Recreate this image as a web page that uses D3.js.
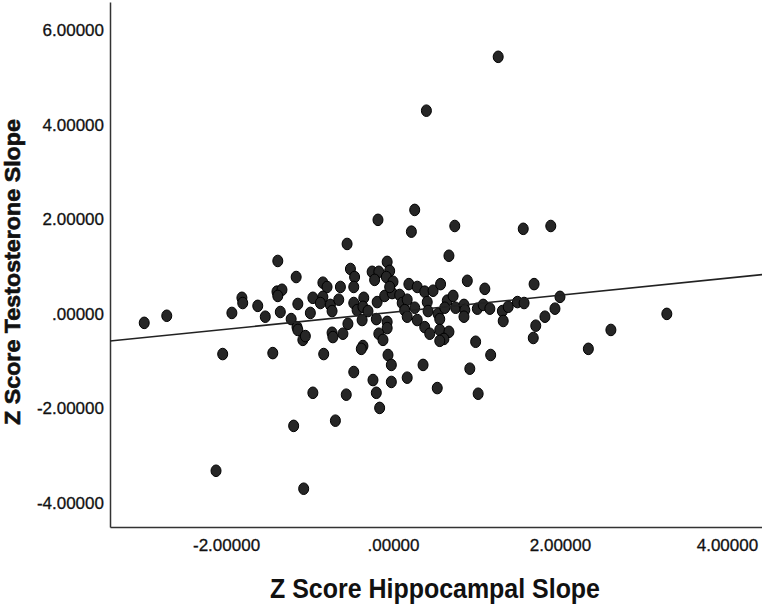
<!DOCTYPE html>
<html>
<head>
<meta charset="utf-8">
<script src="https://cdn.jsdelivr.net/npm/d3@7"></script>
<style>
  html, body { margin: 0; padding: 0; background: #fff; }
  svg { display: block; }
</style>
</head>
<body>
<div id="chart"></div>
<script>
'use strict';

// z score pairs
const hippoZ = [
  -2.98, -2.71, -2.12, -2.04, -1.93, -1.81, -1.80, -1.62, -1.53, -1.44,
  -1.38, -1.39, -1.33, -1.38, -1.35, -1.22, -1.16, -1.14, -1.15, -1.14,
  -1.08, -1.05, -1.19, -1.07, -0.99, -0.96, -0.96, -0.84, -0.79, -0.84,
  -0.87, -0.75, -0.73, -0.83, -0.63, -0.65, -0.73, -0.72, -0.60, -0.69,
  -0.55, -0.51, -0.46, -0.47, -0.47, -0.43, -0.54, -0.56, -0.47, -0.35,
  -0.36, -0.30, -0.37, -0.36, -0.38, -0.25, -0.17, -0.22, -0.19, -0.20,
  -0.24, -0.20, -0.16, -0.18, -0.07, -0.04, -0.08, 0.00, -0.10, -0.01,
  -0.07, -0.07, -0.17, -0.12, -0.06, -0.02, -0.02, -0.04, 0.08, 0.11,
  0.17, 0.14, 0.19, 0.26, 0.22, 0.29, 0.26, 0.17, 0.29, 0.38,
  0.36, 0.17, 0.40, 0.38, 0.41, 0.42, 0.48, 0.57, 0.65, 0.54,
  0.56, 0.56, 0.44, 0.67, 0.61, 0.56, 0.72, 0.67, 0.74, 0.75,
  0.62, 0.85, 0.86, 0.85, 0.89, 1.01, 1.08, 1.10, 1.16, 0.99,
  1.17, 0.92, 0.53, 1.02, 1.26, 1.31, 1.38, 1.32, 1.49, 1.57,
  1.56, 1.89, 1.69, 2.00, 1.94, 1.82, 1.71, 1.68, 2.61, 2.34,
  3.28
];
const testoZ = [
  -0.19, -0.04, -3.32, -0.85, 0.02, 0.34, 0.23, 0.17, -0.06, -0.83,
  1.12, 0.47, 0.51, 0.38, 0.04, -0.11, 0.78, 0.21, -0.28, -0.34,
  -0.55, -0.47, -2.37, -3.70, 0.02, 0.34, -1.67, 0.66, 0.57, 0.36,
  0.23, 0.19, 0.06, -0.85, 0.57, 0.30, -0.40, -0.49, -0.42, -2.26,
  1.48, 0.95, 0.78, 0.57, 0.23, 0.08, -0.21, -1.71, -1.23, 0.34,
  0.15, 0.06, -0.13, -0.68, -0.74, 0.89, 0.89, 0.72, 0.25, -0.11,
  -1.40, -1.67, -1.99, 1.99, 1.10, 0.91, 0.78, 0.68, 0.38, 0.44,
  -0.17, -0.30, -0.42, -0.55, -0.87, -1.08, -1.44, 0.57, 0.40, 0.23,
  0.30, 0.08, 0.63, 2.20, 1.74, 0.57, 0.13, -0.06, -0.13, -0.28,
  -1.08, -1.35, 4.30, 0.47, 0.25, 0.06, 0.49, 0.63, 0.28, 0.00,
  -0.11, -0.34, -0.42, -0.38, -0.53, -0.57, 0.38, 1.23, 1.86, 0.13,
  0.13, 0.19, 0.08, -0.06, 0.70, 0.11, 0.19, 0.53, 0.11, -0.59,
  -0.87, -1.16, -1.57, -1.69, 5.44, 0.06, 0.15, -0.15, 0.25, 0.23,
  1.80, 1.86, 0.63, 0.36, 0.11, -0.06, -0.25, -0.51, -0.34, -0.74,
  0.00
];

// fit line
const fitIntercept = 0.035;
const fitSlope = 0.18;

const xTicks = [-2, 0, 2, 4];
const yTicks = [-4, -2, 0, 2, 4, 6];
const xTitle = 'Z Score Hippocampal Slope';
const yTitle = 'Z Score Testosterone Slope';

const W = 762, H = 608;
const margin = { top: 2, right: 0, bottom: 81, left: 110 };

const svg = d3.select('#chart')
  .append('svg')
  .attr('width', W)
  .attr('height', H);

const x = d3.scaleLinear()
  .domain([-3.39, 4.42])
  .range([margin.left, W - margin.right]);

const y = d3.scaleLinear()
  .domain([-4.51, 6.6])
  .range([H - margin.bottom, margin.top]);

const fmt = d => d === 0 ? '.00000' : d.toFixed(5);

// axes
const xAxis = svg.append('g')
  .attr('transform', 'translate(0,' + (H - margin.bottom) + ')')
  .call(d3.axisBottom(x).tickValues(xTicks).tickFormat(fmt).tickSize(0).tickPadding(12));

const yAxis = svg.append('g')
  .attr('transform', 'translate(' + margin.left + ',0)')
  .call(d3.axisLeft(y).tickValues(yTicks).tickFormat(fmt).tickSize(0).tickPadding(6));

[xAxis, yAxis].forEach(g => {
  g.select('.domain').attr('stroke', '#333').attr('stroke-width', 1.5);
  g.selectAll('text')
    .attr('fill', '#111')
    .attr('stroke', '#111')
    .attr('stroke-width', 0.3)
    .style('font-family', '"Liberation Sans", Arial, sans-serif')
    .style('font-size', '17px');
});

// points
const pts = hippoZ.map((d, i) => ({ x: d, y: testoZ[i] }));

svg.append('g')
  .selectAll('ellipse')
  .data(pts)
  .enter()
  .append('ellipse')
  .attr('cx', d => x(d.x))
  .attr('cy', d => y(d.y))
  .attr('rx', 5)
  .attr('ry', 5.8)
  .attr('fill', '#262626')
  .attr('stroke', '#000')
  .attr('stroke-width', 1);

// fit line
const xd = x.domain();
svg.append('line')
  .attr('x1', x(xd[0]))
  .attr('y1', y(fitIntercept + fitSlope * xd[0]))
  .attr('x2', x(xd[1]))
  .attr('y2', y(fitIntercept + fitSlope * xd[1]))
  .attr('stroke', '#222')
  .attr('stroke-width', 1.6);

// axis titles
svg.append('text')
  .attr('x', 435)
  .attr('y', 598)
  .attr('text-anchor', 'middle')
  .attr('textLength', 330)
  .attr('lengthAdjust', 'spacingAndGlyphs')
  .style('font-family', '"Liberation Sans", Arial, sans-serif')
  .style('font-weight', 'bold')
  .style('font-size', '28px')
  .attr('fill', '#111')
  .text(xTitle);

svg.append('text')
  .attr('transform', 'translate(20,272) rotate(-90)')
  .attr('text-anchor', 'middle')
  .attr('textLength', 306)
  .attr('lengthAdjust', 'spacingAndGlyphs')
  .style('font-family', '"Liberation Sans", Arial, sans-serif')
  .style('font-weight', 'bold')
  .style('font-size', '22px')
  .attr('fill', '#111')
  .attr('stroke', '#111')
  .attr('stroke-width', 0.6)
  .text(yTitle);
</script>
</body>
</html>
